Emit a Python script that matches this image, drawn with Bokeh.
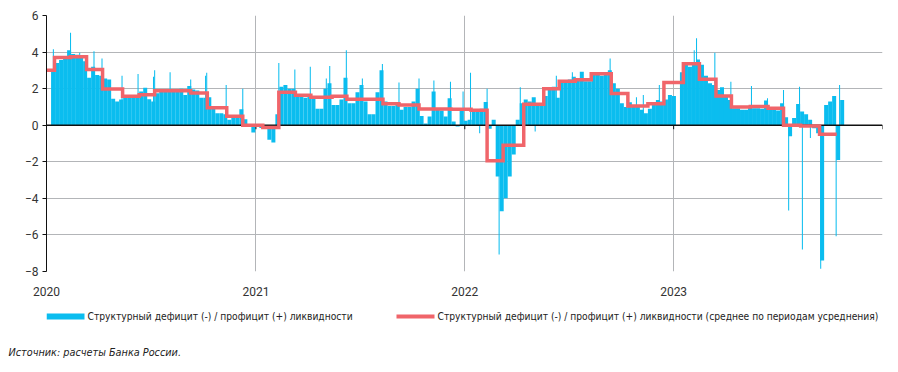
import pandas as pd
from bokeh.plotting import figure
from bokeh.layouts import column
from bokeh.models import Range1d, FixedTicker, ColumnDataSource, DatetimeTickFormatter, Title
from bokeh.core.properties import value
from bokeh.embed import file_html
from bokeh.resources import INLINE

# ---------------- data ----------------
week_start = "2020-01-09"          # weekly buckets of the daily series
vals_2020 = [3.0, 3.4, 3.56, 3.65, 4.1, 3.9, 3.85, 3.75, 3.5, 2.6,
             3.2, 2.75, 2.7, 2.56, 2.5, 1.45, 1.3, 1.4, 1.55, 1.5,
             1.52, 1.55, 1.85, 2.05, 1.42, 1.3, 1.75, 1.82, 1.85, 1.9,
             1.95, 1.95, 2.0, 1.65, 2.15, 1.95, 1.9, 1.5, 1.5, 1.53,
             0.9, 0.65, 0.65, 0.6, 0.3, 0.44, 0.5, 0.87, 0.33, -0.1,
             -0.4]
vals_2021 = [-0.05, -0.15, -0.2, -0.8, -0.95, 0.6, 2.1, 2.2, 2.0, 2.0,
             1.7, 1.55, 1.5, 1.55, 1.5, 0.9, 0.9, 2.0, 2.3, 1.1,
             1.1, 1.4, 2.6, 1.2, 1.2, 1.8, 2.2, 1.3, 0.6, 0.6,
             1.8, 3.0, 1.3, 1.05, 1.05, 1.1, 0.84, 1.0, 1.0, 1.3,
             2.0, 0.5, 0.1, 0.47, 1.84, 0.84, 0.8, 0.47, 1.47, 0.2,
             -0.07, 0.84]
vals_2022 = [0.25, 0.3, 0.85, 0.85, 0.9, 1.27, -0.2, 0.3, -2.8, -4.7,
             -4.0, -2.8, -1.6, 0.3, 1.2, 1.4, 1.3, 1.53, 1.1, 1.1,
             1.6, 2.0, 2.1, 1.5, 2.47, 2.47, 2.5, 2.65, 2.5, 2.93,
             2.4, 2.4, 2.84, 2.84, 2.7, 2.75, 3.0, 2.3, 2.0, 1.2,
             1.0, 1.25, 1.1, 1.0, 0.84, 0.65, 0.9, 1.1, 1.38, 1.3,
             1.4, 1.65]
vals_2023 = [1.6, 0.0, 2.9, 3.3, 3.2, 3.4, 3.6, 3.3, 2.7, 2.3,
             2.2, 1.93, 2.07, 1.6, 1.38, 0.93, 0.93, 0.84, 0.84, 1.0,
             0.93, 0.93, 0.9, 1.35, 1.0, 1.0, 0.8, 1.2, 0.44, -0.6,
             0.4, 1.16, 0.75, 0.6, 0.3, -0.16, -0.44, -7.4, 1.1, 1.3,
             1.6, -1.9, 1.38]

# single days that stand out from their week
spike_dates = ["2020-01-13", "2020-02-12", "2020-02-28", "2020-03-24", "2020-04-07",
               "2020-05-12", "2020-06-09", "2020-07-06", "2020-07-08", "2020-08-04",
               "2020-09-09", "2020-10-05", "2020-10-07", "2020-11-10", "2020-12-09",
               "2021-02-10", "2021-03-10", "2021-04-06", "2021-05-04", "2021-05-10",
               "2021-06-08", "2021-07-06", "2021-08-10", "2021-09-08", "2021-10-13",
               "2021-11-08", "2021-12-07", "2021-12-29",
               "2022-01-11", "2022-01-27", "2022-02-09", "2022-03-02", "2022-04-08",
               "2022-05-04", "2022-06-10", "2022-07-08", "2022-09-12", "2022-10-28",
               "2022-11-09", "2022-12-07",
               "2023-02-06", "2023-02-10", "2023-03-14", "2023-04-11", "2023-05-17",
               "2023-06-14", "2023-07-12", "2023-07-21", "2023-08-09", "2023-08-14",
               "2023-08-28", "2023-09-15", "2023-10-12", "2023-10-18"]
spike_values = [4.16, 5.05, 3.96, 4.05, 3.65, 2.7, 2.8, 2.65, 3.0, 2.9,
                2.5, 2.7, 2.87, 2.2, 2.0,
                3.4, 3.05, 3.2, 2.56, 3.24, 4.1, 2.56, 3.35, 2.33, 2.56,
                2.44, 2.38, 1.84,
                2.87, -0.44, 2.0, -7.07, 2.07, -0.35, 2.7, 2.9, 3.65, 1.53,
                1.65, 2.2,
                4.1, 4.75, 3.96, 2.38, 2.15, 1.47, 1.93, -4.67, 2.1, -6.8,
                -0.7, -7.85, -6.07, 2.2]

# averaging periods (start dates) and their mean
period_starts = ["2020-01-01", "2020-01-15", "2020-02-12", "2020-03-11", "2020-04-08",
                 "2020-05-13", "2020-06-11", "2020-07-08", "2020-09-09", "2020-10-08",
                 "2020-11-11", "2020-12-09",
                 "2021-01-13", "2021-02-10", "2021-03-11", "2021-04-07", "2021-05-14",
                 "2021-06-09", "2021-08-11", "2021-09-08", "2021-10-13", "2021-12-08",
                 "2022-01-12", "2022-02-09", "2022-03-09", "2022-04-14", "2022-05-19",
                 "2022-06-15", "2022-07-13", "2022-08-10", "2022-09-14", "2022-10-13",
                 "2022-11-17", "2022-12-15",
                 "2023-01-18", "2023-02-15", "2023-03-16", "2023-04-12", "2023-05-15",
                 "2023-06-15", "2023-07-12", "2023-08-11", "2023-09-13"]
period_values = [3.0, 3.7, 3.75, 3.05, 1.98, 1.58, 1.67, 1.89, 1.76, 0.95, 0.49, 0.0,
                 -0.13, 1.8, 1.64, 1.53, 1.58, 1.42, 1.18, 1.11, 0.89, 0.87,
                 0.82, -1.94, -1.09, 1.14, 2.0, 2.4, 2.49, 2.82, 1.73, 1.05, 1.18, 2.33,
                 3.36, 2.52, 1.6, 1.0, 1.02, 0.93, 0.0, -0.04, -0.49]
period_end = "2023-10-13"

year_ticks = ["2020-01-01", "2021-01-01", "2022-01-01", "2023-01-01", "2024-01-01"]
year_labels = ["2020", "2021", "2022", "2023", ""]
y_ticks = [-8, -6, -4, -2, 0, 2, 4, 6]

label_bars = "Структурный дефицит (-) / профицит (+) ликвидности"
label_line = "Структурный дефицит (-) / профицит (+) ликвидности (среднее по периодам усреднения)"
source_note = "Источник: расчеты Банка России."

# ---------------- styling ----------------
BLUE = "#0BBDEF"
RED = "#F0656A"
GRID = "#B3B5B8"
TEXTFONT = "DejaVu Sans Condensed"
DAY = 86400000
W = 890

weekly = vals_2020 + vals_2021 + vals_2022 + vals_2023
wk_x = pd.date_range(week_start, periods=len(weekly), freq="7D") + pd.Timedelta(hours=84)
src_w = ColumnDataSource(dict(x=wk_x, v=weekly))
src_s = ColumnDataSource(dict(x=pd.to_datetime(spike_dates), v=spike_values))
st_x = list(pd.to_datetime(period_starts)) + [pd.Timestamp(period_end)]
st_y = period_values + [period_values[-1]]
src_p = ColumnDataSource(dict(x=st_x, y=st_y))

yt = pd.to_datetime(year_ticks)
x_start, x_end = yt[0], yt[-1]

p = figure(width=W, height=298, x_axis_type="datetime",
           x_range=Range1d(x_start, x_end), y_range=Range1d(-8, 6),
           output_backend="svg", toolbar_location=None,
           min_border_left=46, min_border_right=8, min_border_top=15,
           min_border_bottom=26)
p.outline_line_color = None

bars = p.vbar(x="x", top="v", bottom=0, width=7 * DAY, source=src_w,
              fill_color=BLUE, line_color=None)
p.vbar(x="x", top="v", bottom=0, width=1.8 * DAY, source=src_s,
       fill_color=BLUE, line_color=None)

# zero line and small year ticks below it
p.segment(x0=[x_start], y0=[0], x1=[x_end], y1=[0], line_color="#111111", line_width=1.5)
p.segment(x0=list(yt), y0=[0] * len(yt), x1=list(yt), y1=[-0.22] * len(yt),
          line_color="#111111", line_width=1)

step = p.step(x="x", y="y", source=src_p, mode="after", line_color=RED,
              line_width=3.5, line_join="miter")

tick_ms = [t.value / 1e6 for t in yt]
p.xaxis.ticker = FixedTicker(ticks=tick_ms)
p.xaxis.formatter = DatetimeTickFormatter(years="%Y", months="%Y", days="%Y",
                                          hours="%Y", minutes="%Y", seconds="%Y")
p.xaxis.major_label_overrides = {ms: lab for ms, lab in zip(tick_ms, year_labels)}
p.xaxis.axis_line_color = None
p.xaxis.major_tick_line_color = None
p.xaxis.minor_tick_line_color = None
p.xaxis.major_label_standoff = 9
p.xaxis.major_label_text_font = "Roboto"
p.xaxis.major_label_text_font_size = "12px"
p.xaxis.major_label_text_color = "#333333"

p.yaxis.ticker = FixedTicker(ticks=y_ticks)
p.yaxis.axis_line_color = "#111111"
p.yaxis.major_tick_line_color = "#111111"
p.yaxis.major_tick_out = 4
p.yaxis.major_tick_in = 0
p.yaxis.minor_tick_line_color = None
p.yaxis.major_label_standoff = 4
p.yaxis.major_label_text_font = "Roboto"
p.yaxis.major_label_text_font_size = "12px"
p.yaxis.major_label_text_color = "#333333"

p.xgrid.ticker = FixedTicker(ticks=tick_ms)
p.ygrid.ticker = FixedTicker(ticks=y_ticks)
p.xgrid.grid_line_color = GRID
p.ygrid.grid_line_color = GRID

# ---------------- legend + source note (pixel-unit panel) ----------------
H2 = 74
q = figure(width=W, height=H2, x_range=Range1d(46, 882), y_range=Range1d(40, 0),
           output_backend="svg", toolbar_location=None,
           x_axis_location=None, y_axis_location=None,
           min_border_left=46, min_border_right=8, min_border_top=0,
           min_border_bottom=H2 - 40)
q.outline_line_color = None
q.grid.visible = False

q.quad(left=[46], right=[84], top=[15], bottom=[21], fill_color=BLUE, line_color=None)
q.line(x=[396, 434], y=[18, 18], line_color=RED, line_width=4)
q.text(x=[87, 437], y=[18, 18], text=[label_bars, label_line],
       text_font=value(TEXTFONT), text_font_size="10.2px", text_color="#222222",
       text_baseline="middle", text_align="left")

note = Title(text=source_note, align="left", offset=-38,
             text_font=TEXTFONT, text_font_style="italic",
             text_font_size="10.8px", text_color="#222222")
q.add_layout(note, "below")

open("out.html", "w").write(file_html(column(p, q, spacing=0), INLINE))
